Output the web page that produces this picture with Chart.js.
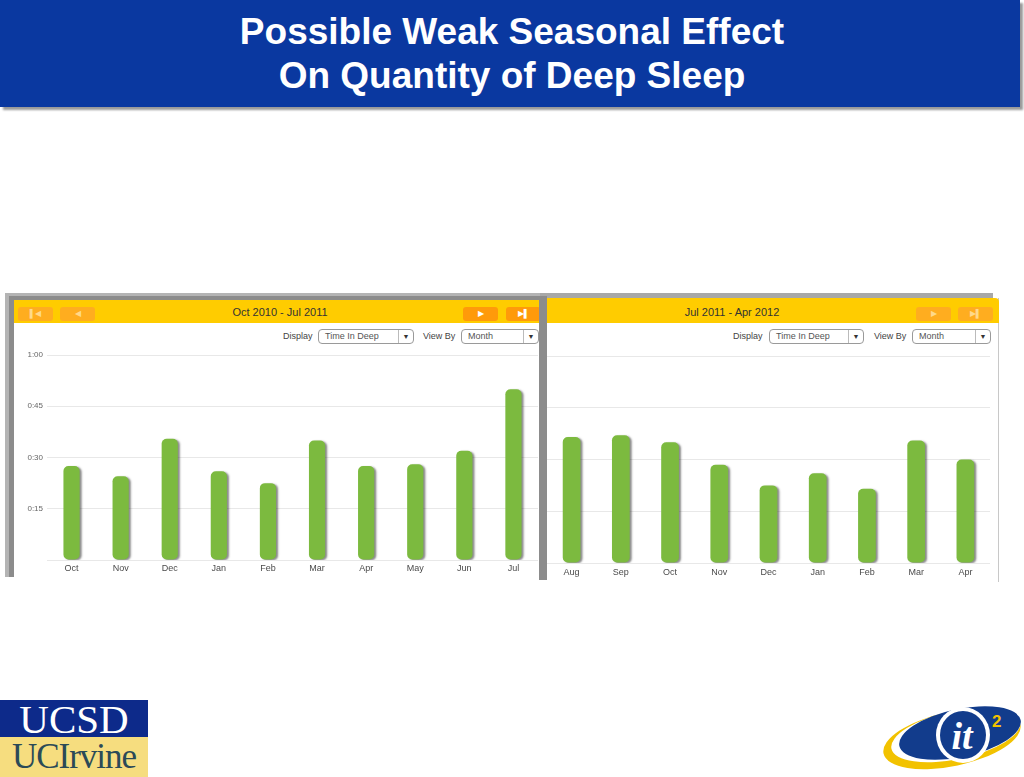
<!DOCTYPE html>
<html>
<head>
<meta charset="utf-8">
<script src="https://cdn.jsdelivr.net/npm/chart.js@4.4.1/dist/chart.umd.min.js"></script>
<style>
  html, body { margin:0; padding:0; background:#fff; }
  body { width:1024px; height:777px; position:relative; overflow:hidden; font-family:"Liberation Sans", Arial, sans-serif; }
  .abs { position:absolute; }
  #banner { left:0; top:0; width:1020px; height:107px; background:#0a38a0; box-shadow: 3px 3px 2px #9a9a9a; }
  #title { left:0; top:10px; width:1024px; text-align:center; color:#fff; font-weight:bold; font-size:37px; line-height:44px; }
  .hdr { background:#ffcc00; height:23px; }
  .hdrtxt { font-size:11px; color:#333; text-align:center; line-height:23px; }
  .btn { width:35px; height:14px; border-radius:3px; background:#ff9a0a; color:#fff; font-size:8px; line-height:14px; text-align:center; }
  .btn.dim { background:#ffad1f; color:#ffd98a; }
  .lbl { font-size:9px; color:#444; line-height:15px; }
  .sel { height:13px; border:1px solid #9a9a9a; border-radius:4px; font-size:9px; color:#555; line-height:13px; padding-left:6px; box-sizing:content-box; background:#fff; }
  .sel span.arr { position:absolute; right:0; top:0; width:14px; height:13px; border-left:1px solid #bbb; text-align:center; font-size:7px; color:#333; }
  .chartbox { position:absolute; }
</style>
</head>
<body>
<div id="banner" class="abs"></div>
<div id="title" class="abs">Possible Weak Seasonal Effect<br>On Quantity of Deep Sleep</div>

<!-- left panel frame -->
<div class="abs" style="left:5px;top:293px;width:540px;height:284px;background:#b4b4b4;"></div>
<div class="abs" style="left:9px;top:296px;width:534px;height:281px;background:#8c8c8c;"></div>
<div class="abs" style="left:14px;top:300px;width:526px;height:277px;background:#fff;"></div>
<div class="abs hdr" style="left:14px;top:300px;width:526px;"></div>
<div class="abs hdrtxt" style="left:14px;top:301px;width:532px;">Oct 2010 - Jul 2011</div>
<div class="abs btn dim" style="left:18px;top:307px;">&#9612;&#9664;</div>
<div class="abs btn dim" style="left:60px;top:307px;">&#9664;</div>
<div class="abs btn" style="left:463px;top:307px;">&#9654;</div>
<div class="abs btn" style="left:506px;top:307px;">&#9654;&#9612;</div>
<div class="abs lbl" style="left:283px;top:329px;">Display</div>
<div class="abs sel" style="left:318px;top:329px;width:88px;">Time In Deep<span class="arr">&#9660;</span></div>
<div class="abs lbl" style="left:423px;top:329px;">View By</div>
<div class="abs sel" style="left:461px;top:329px;width:70px;">Month<span class="arr">&#9660;</span></div>

<!-- right panel frame -->
<div class="abs" style="left:540px;top:293px;width:453px;height:6px;background:#a8a8a8;"></div>
<div class="abs" style="left:539px;top:296px;width:8px;height:284px;background:#8c8c8c;"></div>
<div class="abs" style="left:547px;top:298px;width:451px;height:284px;background:#fff;border-right:1px solid #c8c8c8;"></div>
<div class="abs hdr" style="left:547px;top:298px;width:452px;height:25px;border-radius:0 4px 0 0;"></div>
<div class="abs hdrtxt" style="left:547px;top:301px;width:370px;">Jul 2011 - Apr 2012</div>
<div class="abs btn dim" style="left:916px;top:307px;">&#9654;</div>
<div class="abs btn dim" style="left:958px;top:307px;">&#9654;&#9612;</div>
<div class="abs lbl" style="left:733px;top:329px;">Display</div>
<div class="abs sel" style="left:769px;top:329px;width:87px;">Time In Deep<span class="arr">&#9660;</span></div>
<div class="abs lbl" style="left:874px;top:329px;">View By</div>
<div class="abs sel" style="left:912px;top:329px;width:71px;">Month<span class="arr">&#9660;</span></div>

<div class="chartbox" style="left:8px;top:345px;width:530px;height:233px;"><canvas id="c1"></canvas></div>
<div class="chartbox" style="left:547px;top:346px;width:443px;height:235px;"><canvas id="c2"></canvas></div>

<!-- logos -->
<div class="abs" style="left:0;top:700px;width:148px;height:37px;background:#0d2a8a;color:#fff;font-family:'Liberation Serif','DejaVu Serif',serif;font-size:41px;line-height:38px;text-align:center;">UCSD</div>
<div class="abs" style="left:0;top:737px;width:148px;height:40px;background:#f6dd7f;color:#2b4a57;font-family:'Liberation Serif','DejaVu Serif',serif;font-size:35px;line-height:40px;text-align:center;letter-spacing:-1px;">UCIrvine</div>
<svg class="abs" style="left:870px;top:695px;" width="154" height="82" viewBox="0 0 154 82">
  <ellipse cx="82" cy="44" rx="70" ry="27" fill="#f2c200" transform="rotate(-12 82 44)"/>
  <ellipse cx="86" cy="40" rx="66" ry="24" fill="#fff" transform="rotate(-12 86 40)"/>
  <ellipse cx="90" cy="38" rx="62" ry="24" fill="#123c8c" transform="rotate(-12 90 38)"/>
  <ellipse cx="93" cy="40" rx="27" ry="28" fill="#fff"/>
  <ellipse cx="93" cy="40" rx="23" ry="24" fill="#123c8c"/>
  <text x="92" y="54" text-anchor="middle" font-family="'Liberation Serif',serif" font-style="italic" font-weight="bold" font-size="38" fill="#fff">it</text>
  <text x="122" y="32" font-family="'Liberation Sans',sans-serif" font-weight="bold" font-size="17" fill="#f2c200">2</text>
</svg>

<script>
// ---- data ----
const leftMonths  = ['Oct','Nov','Dec','Jan','Feb','Mar','Apr','May','Jun','Jul'];
const leftMinutes = [27.5, 24.5, 35.5, 26, 22.5, 35, 27.5, 28, 32, 50];
const rightMonths  = ['Aug','Sep','Oct','Nov','Dec','Jan','Feb','Mar','Apr'];
const rightMinutes = [36.5, 37, 35, 28.5, 22.5, 26, 21.5, 35.5, 30];
const yTickValues = [15, 30, 45, 60];
const yTickLabels = ['0:15', '0:30', '0:45', '1:00'];

const shadowPlugin = {
  id: 'barShadow',
  beforeDatasetDraw(chart) {
    const ctx = chart.ctx;
    ctx.save();
    ctx.shadowColor = 'rgba(40,40,40,0.55)';
    ctx.shadowOffsetX = 2;
    ctx.shadowOffsetY = 1;
    ctx.shadowBlur = 2;
  },
  afterDatasetDraw(chart) { chart.ctx.restore(); }
};

function makeChart(id, labels, values, showY, barPct, xPad) {
  return new Chart(document.getElementById(id), {
    type: 'bar',
    data: { labels: labels, datasets: [{ data: values, backgroundColor: '#7cba3f', borderRadius: 5, borderSkipped: false, barPercentage: barPct, categoryPercentage: 1 }] },
    options: {
      responsive: true, maintainAspectRatio: false, animation: false,
      layout: { padding: { top: 10, left: 0, right: 0, bottom: 0 } },
      plugins: { legend: { display: false }, tooltip: { enabled: false } },
      scales: {
        x: {
          grid: { display: false, drawTicks: false },
          border: { display: false },
          ticks: { color: '#4a4a4a', font: { family: 'Liberation Sans', size: 9 }, padding: xPad, maxRotation: 0 },
          afterFit(s) { s.height = 18; }
        },
        y: {
          min: 0, max: 60,
          afterBuildTicks(s) { s.ticks = [0].concat(yTickValues).map(v => ({ value: v })); },
          grid: { color: '#e8e8e8', lineWidth: 1, drawTicks: false },
          border: { display: false },
          ticks: {
            display: showY, color: '#666', font: { family: 'Liberation Sans', size: 8 }, padding: 4,
            callback(v) { const i = yTickValues.indexOf(v); return i >= 0 ? yTickLabels[i] : ''; }
          },
          afterFit(s) { s.width = showY ? 39 : 0; }
        }
      }
    },
    plugins: [shadowPlugin]
  });
}
makeChart('c1', leftMonths, leftMinutes, true, 0.33, 3);
makeChart('c2', rightMonths, rightMinutes, false, 0.36, 4);
</script>
</body>
</html>
